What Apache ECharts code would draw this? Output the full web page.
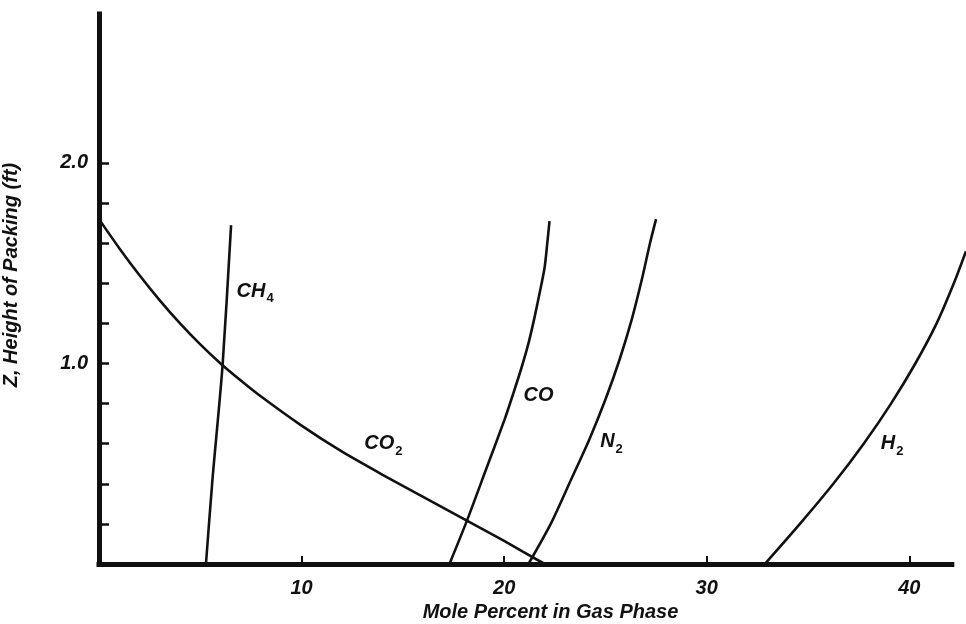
<!DOCTYPE html>
<html>
<head>
<meta charset="utf-8">
<script src="https://cdn.jsdelivr.net/npm/echarts@6/dist/echarts.min.js"></script>
<style>
  html, body { margin: 0; padding: 0; background: #fff; }
  #chart { width: 966px; height: 624px; }
</style>
</head>
<body>
<div id="chart"></div>
<script>
// Gas-phase composition along the packed height: [mole %, Z (ft)]
const ch4 = [[5.28, 0], [5.6, 0.42], [6.1, 0.99], [6.52, 1.69]];
const co2 = [[0, 1.72], [1, 1.575], [2, 1.44], [3, 1.315], [4, 1.20], [5, 1.095], [6, 1.0],
             [7, 0.915], [8, 0.835], [10, 0.69], [12, 0.56], [14, 0.445], [16, 0.335],
             [18, 0.225], [20, 0.115], [22, 0]];
const co  = [[17.3, 0], [18.14, 0.21], [19.1, 0.47], [20.02, 0.72], [20.45, 0.85], [20.86, 0.98],
             [21.2, 1.1], [21.5, 1.23], [21.77, 1.36], [22.0, 1.48], [22.13, 1.6], [22.24, 1.71]];
const n2  = [[21.2, 0], [22.3, 0.2], [23.3, 0.42], [24.2, 0.62], [25.0, 0.82], [25.7, 1.02],
             [26.3, 1.22], [26.8, 1.42], [27.2, 1.6], [27.5, 1.72]];
const h2  = [[32.87, 0], [34.6, 0.2], [36.25, 0.4], [37.75, 0.6], [39.1, 0.8], [40.3, 1.0],
             [41.35, 1.2], [42.2, 1.4], [42.8, 1.56]];

// Curve labels: formula, subscript, position
const labelBase = ['CH', 'CO', 'CO', 'N', 'H'];
const labelSub = ['4', '2', '', '2', '2'];
const labelX = [7.71, 14.04, 21.7, 25.3, 39.15];
const labelY = [1.36, 0.60, 0.84, 0.61, 0.60];

// Axis ticks and labels; the drawn x axis stops short of the plot's right edge
const xAxisEnd = 42.1;
const xTickValues = [10, 20, 30, 40];
const yTickValues = [0.2, 0.4, 0.6, 0.8, 1.0, 1.2, 1.4, 1.6, 1.8, 2.0];
const yLabelValues = [1.0, 2.0];

const FONT = 'Liberation Sans';
const ink = '#111';
const textStyle = { fontFamily: FONT, fontSize: 20, fontStyle: 'italic', fontWeight: 'bold', color: ink };

function curve(data) {
  return {
    type: 'line', data: data, smooth: 0.25, symbol: 'none',
    lineStyle: { color: ink, width: 2.6 }, silent: true
  };
}

const labelData = labelBase.map((b, i) => ({
  value: [labelX[i], labelY[i]],
  name: '{m|' + b + '}' + (labelSub[i] ? '{s|' + labelSub[i] + '}' : '')
}));

const chart = echarts.init(document.getElementById('chart'), null, { renderer: 'canvas' });
chart.setOption({
  animation: false,
  backgroundColor: '#fff',
  grid: { left: 99, right: 0, top: 14, bottom: 60, containLabel: false, outerBoundsMode: 'none' },
  xAxis: {
    type: 'value', min: 0, max: 42.8, interval: 10,
    name: 'Mole Percent in Gas Phase', nameLocation: 'middle', nameGap: 36,
    nameTextStyle: Object.assign({}, textStyle, { padding: [0, 0, 0, 36] }),
    axisLine: { show: false },
    axisTick: { inside: true, length: 8, customValues: xTickValues, lineStyle: { color: ink, width: 2 } },
    axisLabel: Object.assign({ customValues: xTickValues, margin: 14 }, textStyle),
    splitLine: { show: false }
  },
  yAxis: {
    type: 'value', min: 0, max: 2.743, interval: 0.2, offset: 3,
    name: 'Z, Height of Packing (ft)', nameLocation: 'middle', nameGap: 75, nameRotate: 90,
    nameTextStyle: Object.assign({}, textStyle, { padding: [0, 0, 0, 28] }),
    axisLine: { lineStyle: { color: ink, width: 5, cap: 'square' } },
    axisTick: { inside: true, length: 10, customValues: yTickValues, lineStyle: { color: ink, width: 2.5 } },
    axisLabel: Object.assign({ customValues: yLabelValues, margin: 8, formatter: v => v.toFixed(1) }, textStyle),
    splitLine: { show: false }
  },
  series: [
    curve(ch4), curve(co2), curve(co), curve(n2), curve(h2),
    {
      type: 'scatter', data: labelData, symbolSize: 0, silent: true,
      itemStyle: { opacity: 1 },
      label: {
        show: true, position: 'inside', opacity: 1,
        formatter: p => p.name,
        rich: {
          m: Object.assign({}, textStyle, { lineHeight: 20, verticalAlign: 'top' }),
          s: { fontFamily: FONT, fontSize: 13, fontWeight: 'bold', color: ink, lineHeight: 12, padding: [11, 0, 0, 1], verticalAlign: 'top' }
        }
      },
      // horizontal axis line, ending at xAxisEnd
      markLine: {
        silent: true, symbol: 'none', label: { show: false },
        lineStyle: { color: ink, width: 5, type: 'solid', cap: 'square' },
        data: [[{ coord: [0, 0] }, { coord: [xAxisEnd, 0] }]]
      }
    }
  ]
});
</script>
</body>
</html>
